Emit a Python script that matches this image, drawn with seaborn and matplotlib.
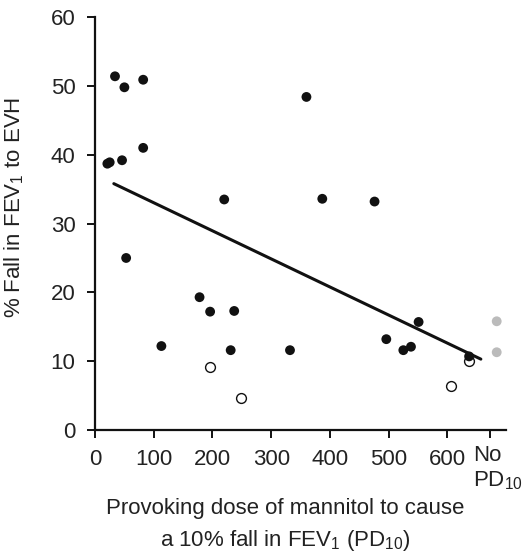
import matplotlib
matplotlib.use('Agg')
import matplotlib.pyplot as plt
import matplotlib.transforms as mtransforms
import seaborn as sns

# Data
filled_x = [21, 25, 34, 50, 46, 82, 82, 53, 113, 178, 196, 237, 231, 220, 332, 360, 387, 476, 551, 496, 525, 538, 637]
filled_y = [38.7, 38.9, 51.4, 49.8, 39.2, 50.9, 41.0, 25.0, 12.2, 19.3, 17.2, 17.3, 11.6, 33.5, 11.6, 48.4, 33.6, 33.2, 15.7, 13.2, 11.6, 12.1, 10.7]
open_x = [196, 249, 607, 637]
open_y = [9.2, 4.6, 6.4, 10.1]
nopd_x = [684, 684]
nopd_y = [15.8, 11.3]
fit_x = [32, 657]
fit_y = [35.8, 10.3]

x_ticks = [0, 100, 200, 300, 400, 500, 600, 673]
x_ticklabels = ['0', '100', '200', '300', '400', '500', '600', 'No\nPD$_{10}$']
y_ticks = [0, 10, 20, 30, 40, 50, 60]

sns.set_style('ticks')
plt.rcParams['font.family'] = ['Liberation Sans', 'DejaVu Sans']
plt.rcParams['mathtext.fontset'] = 'custom'
plt.rcParams['mathtext.rm'] = 'Liberation Sans'
plt.rcParams['mathtext.it'] = 'Liberation Sans'
plt.rcParams['mathtext.default'] = 'regular'

text_col = '#222222'

fig = plt.figure(figsize=(5.25, 5.52), dpi=100)
ax = fig.add_axes([0.181, 0.221, 0.783, 0.748])

sns.lineplot(x=fit_x, y=fit_y, ax=ax, color='#111111', linewidth=2.2)
sns.scatterplot(x=open_x, y=open_y, ax=ax, s=50, facecolor='white', edgecolor='#111111', linewidth=1.0, zorder=3, clip_on=False)
sns.scatterplot(x=filled_x, y=filled_y, ax=ax, s=50, color='#111111', edgecolor='none', zorder=4, clip_on=False)
sns.scatterplot(x=nopd_x, y=nopd_y, ax=ax, s=50, color='#bbbbbb', edgecolor='none', zorder=4, clip_on=False)

ax.set_xlim(0, 700)
ax.set_ylim(0, 60)
ax.set_xticks(x_ticks)
ax.set_xticklabels(x_ticklabels, multialignment='left', va='top')
ax.set_yticks(y_ticks)

for sp in ['top', 'right']:
    ax.spines[sp].set_visible(False)
for sp in ['left', 'bottom']:
    ax.spines[sp].set_linewidth(1.6)
    ax.spines[sp].set_color('#111111')

ax.tick_params(axis='both', length=6, width=1.4, color='#111111', labelsize=16, labelcolor=text_col, direction='out')
ax.tick_params(axis='x', pad=8)
ax.tick_params(axis='y', pad=8)

# nudge the "No PD10" label a little to the right and up like the original
lbl = ax.get_xticklabels()[-1]
lbl.set_transform(lbl.get_transform() + mtransforms.ScaledTranslation(0.08, 0.04, fig.dpi_scale_trans))

ax.set_xlabel('Provoking dose of mannitol to cause\na 10% fall in FEV$_1$ (PD$_{10}$)', fontsize=16, color=text_col, linespacing=1.5)
ax.set_ylabel('% Fall in FEV$_1$ to EVH', fontsize=16, color=text_col)
ax.xaxis.set_label_coords(0.462, -0.165)
ax.yaxis.set_label_coords(-0.168, 0.54)

fig.savefig('out.png', dpi=100)
